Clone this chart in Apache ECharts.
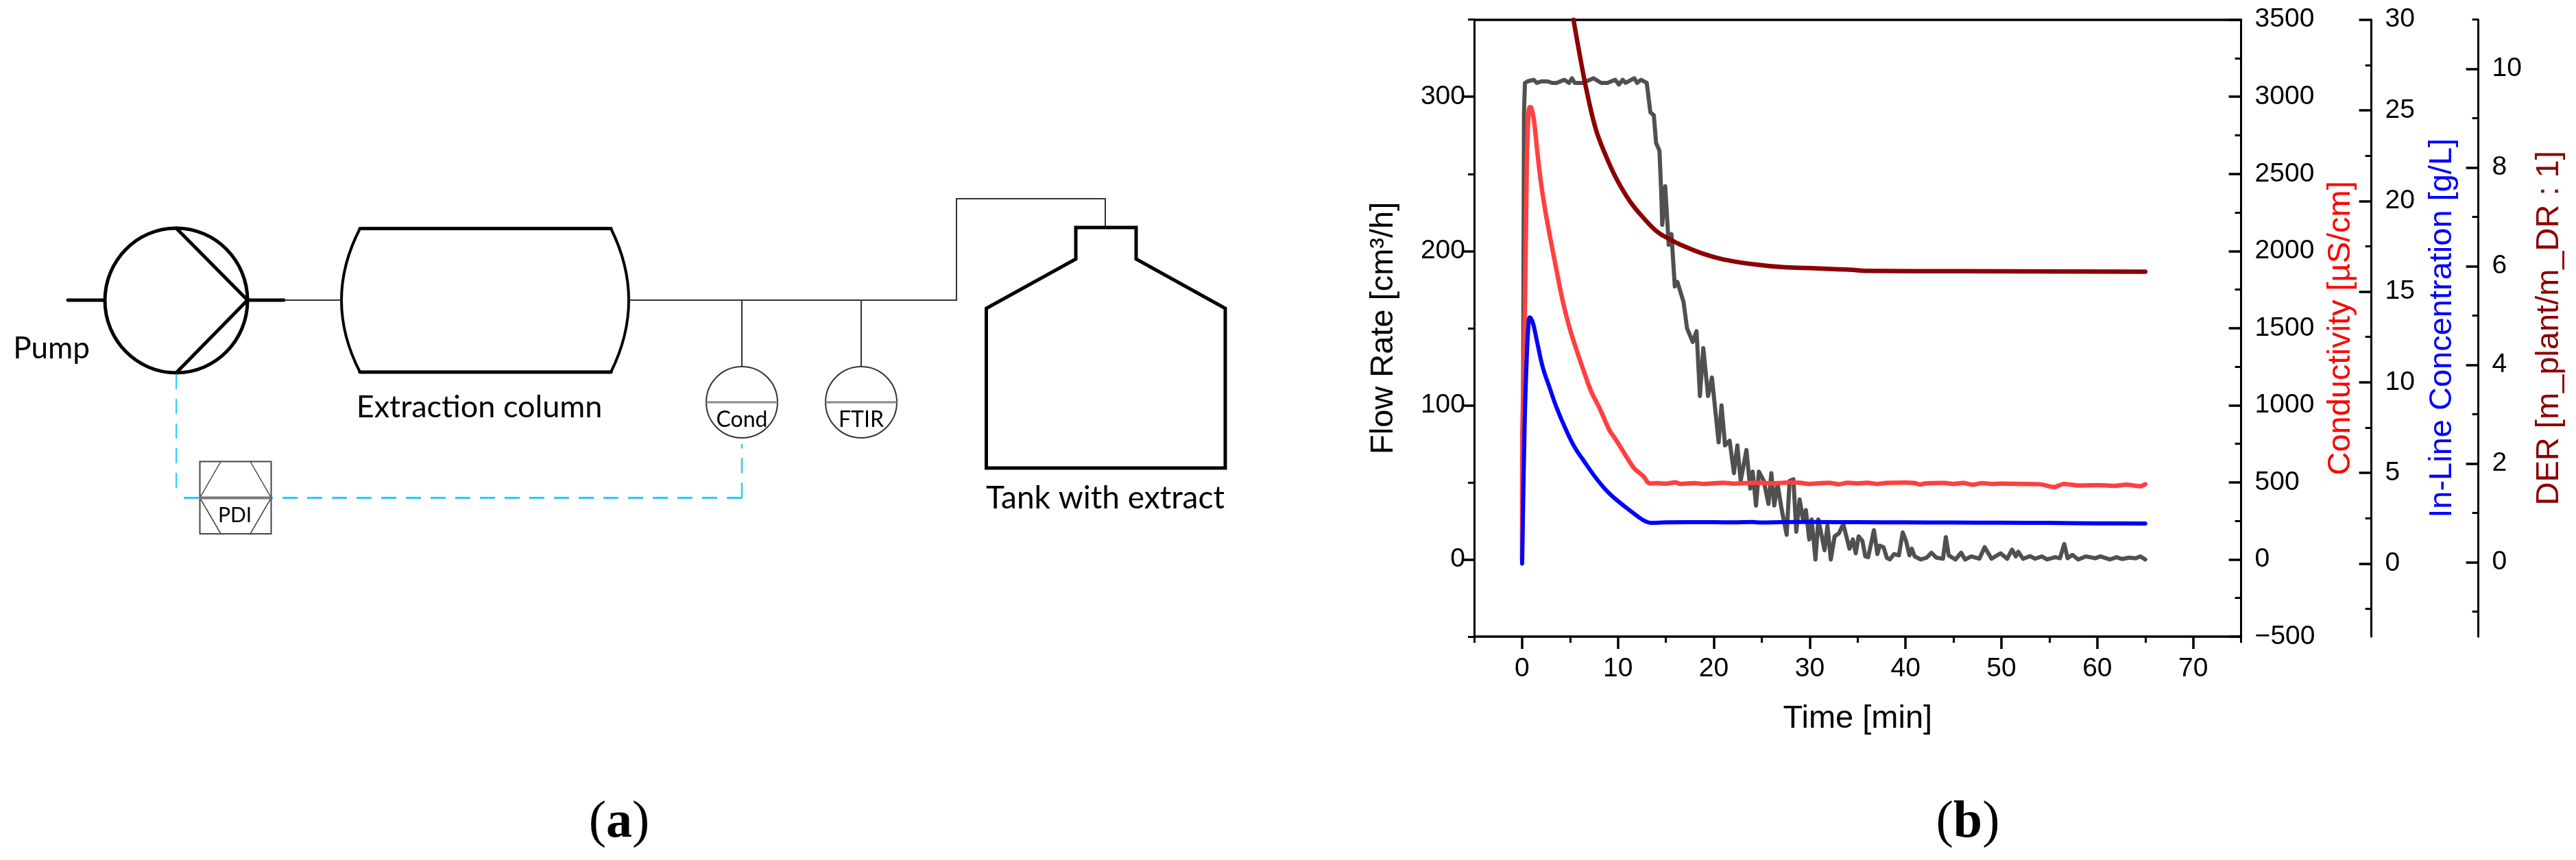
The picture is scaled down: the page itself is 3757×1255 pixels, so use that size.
<!DOCTYPE html>
<html>
<head>
<meta charset="utf-8">
<title>Extraction setup and process run</title>
<style>
    html, body { margin: 0; padding: 0; background: #fff; }
    #main { width: 3757px; height: 1255px; }
</style>
<script src="https://cdn.jsdelivr.net/npm/echarts@6/dist/echarts.min.js"></script>
</head>
<body>
<div id="main"></div>
<script>
// Flow rate [cm3/h]
var flowTime = [0, 0.1, 0.2, 0.3, 0.58, 1.21, 1.53, 2.0, 2.65, 3.13, 3.6, 4.4, 4.9, 5.2, 5.5, 6.3, 7.45, 8.25, 8.9, 9.7, 10.1, 10.5, 10.8, 11.7, 12, 12.4, 13.0,
    13.38, 13.74, 13.98, 14.33, 14.5, 14.62, 14.93, 15.29, 15.58, 15.93, 16.2, 16.84, 17.2, 17.8, 18.2, 18.55, 18.9, 19.4, 19.8, 20.5, 20.8, 21.17, 21.65, 22.1, 22.45, 22.8, 23.4, 23.8, 24.05, 24.4, 24.7, 25.2, 25.7, 26.0, 26.3, 26.65, 27.06, 27.6, 27.9, 28.3, 28.6, 28.95, 29.3, 29.6, 29.95, 30.2, 30.6, 30.9, 31.55, 31.85, 32.2, 32.6, 33.05, 33.5,
    34.15, 34.5, 34.8, 35.1, 35.5, 35.8, 36.1, 36.7, 37.06, 37.3, 37.7, 38.05, 38.35, 38.8, 39.3, 39.7, 40.05, 40.4, 40.65, 40.95, 41.6, 42.2, 42.7, 43.2, 43.9, 44.2, 44.5, 45.2, 45.8, 46.2, 46.85, 47.7, 48.25, 48.96, 49.9, 50.6, 51.1, 51.5, 51.75, 52.25, 53, 53.5, 54.2, 54.75, 55.6, 56.1, 56.55, 56.9, 57.4, 58, 58.8, 59.8, 60.3, 61.3, 62, 62.6, 63.3, 64, 64.5, 65];
var flowValues = [0, 100, 290, 309, 310, 311, 309, 310, 310, 309, 309, 311, 309, 312, 309, 309, 312, 309, 309, 311, 308, 311, 309, 312, 309, 311, 309,
    290, 288, 270, 265, 240, 217, 242, 204, 211, 177, 180, 167, 150, 141, 148, 106, 137, 106, 118, 76, 100, 74, 77, 56, 74, 51, 71, 46, 57, 35, 57, 51, 36, 56, 35, 49, 33, 16, 51, 52, 18, 39, 26, 32, 13, 26, 0, 26, 6, 22, 0, 15, 17, 23,
    7, 13, 4, 15, 12, 2, 1.5, 19, 3.5, 9, 8, 1, 0, 3.5, 2.7, 17.5, 12, 2.7, 7, 2, 0, 1.2, 4.4, 1.2, 0.5, 14.5, 2.7, 0, 4.4, 0, 2, 0.5, 8, 0.5, 4, 0.5, 6.4, 2, 5, 0.5, 2.2, 0.5, 2, 0, 1.5, 0.8, 10, 0.8, 3, 0, 2, 0.8, 2, 0, 1.5, 0.3, 1.2, 0.8, 2, 0];

// Conductivity [uS/cm]
var condTime = [0, 0.03, 0.27, 0.5, 0.68, 0.79, 0.95, 1.22, 1.58, 1.94, 2.41, 2.89, 3.49, 4.2, 4.99, 5.75, 6.23, 7.18, 8.13, 9.09, 9.8, 10.76, 11.7, 12.67, 13.14,
    13.5, 14, 15, 16, 16.5, 18, 19, 20, 21, 22, 24, 25, 26, 28, 29, 30, 31, 32, 33, 34, 35, 36, 37, 38, 40, 41, 41.5, 42, 44, 45, 46, 47, 48, 49, 50, 52, 54, 55.5, 56.5, 58, 60, 62, 63, 64.5, 65];
var condValues = [0, 813, 1493, 2604, 2900, 2933, 2930, 2856, 2649, 2456, 2264, 2101, 1908, 1686, 1493, 1345, 1258, 1093, 975, 841, 775, 679, 590, 538, 498,
    493, 495, 492, 500, 490, 495, 490, 494, 498, 492, 496, 498, 493, 500, 497, 490, 494, 498, 488, 497, 493, 497, 490, 496, 499, 495, 486, 493, 496, 490, 496, 485, 495, 490, 492, 490, 488, 470, 490, 480, 482, 478, 485, 475, 488];

// In-line concentration [g/L]
var concTime = [0, 0.03, 0.27, 0.5, 0.67, 0.79, 0.95, 1.17, 1.58, 2.17, 2.89, 3.6, 4.56, 5.51, 6.47, 7.66, 8.85, 10.04, 11.24, 12.19, 12.9,
    13.5, 15, 20, 22, 24, 25, 27, 30, 35, 40, 45, 50, 55, 60, 65];
var concValues = [0, 0.85, 7.78, 11.56, 13.2, 13.57, 13.5, 13.2, 12.19, 10.8, 9.67, 8.6, 7.4, 6.39, 5.64, 4.75, 4.0, 3.43, 2.93, 2.55, 2.32,
    2.24, 2.27, 2.28, 2.27, 2.29, 2.26, 2.28, 2.29, 2.28, 2.27, 2.26, 2.25, 2.24, 2.22, 2.21];

// DER [m_plant/m_DR : 1]
var derTime = [5.36, 6.0, 6.7, 7.66, 8.61, 9.8, 11.24, 12.67, 14.1, 15.3, 16.5, 18.8, 21, 24.2, 27.4, 30.6, 34.4, 35.8, 45.9, 65];
var derValues = [11.0, 10.3, 9.59, 8.8, 8.3, 7.79, 7.32, 6.98, 6.7, 6.56, 6.44, 6.26, 6.14, 6.04, 5.98, 5.96, 5.93, 5.91, 5.9, 5.89];

// Axis ticks
var timeMajor = [0, 10, 20, 30, 40, 50, 60, 70];
var timeMinor = [-5, 5, 15, 25, 35, 45, 55, 65, 75];
var flowMajor = [0, 100, 200, 300];
var flowMinor = [-50, 50, 150, 250, 350];
var condMajor = [-500, 0, 500, 1000, 1500, 2000, 2500, 3000, 3500];
var condMinor = [-250, 250, 750, 1250, 1750, 2250, 2750, 3250];
var concMajor = [0, 5, 10, 15, 20, 25, 30];
var concMinor = [-2.5, 2.5, 7.5, 12.5, 17.5, 22.5, 27.5];
var derMajor = [0, 2, 4, 6, 8, 10];
var derMinor = [-1, 1, 3, 5, 7, 9, 11];

var FONT = '"Liberation Sans", Arial, sans-serif';
var DIAGRAM_FONT = 'Lato, "Noto Sans", sans-serif';

function zip(xs, ys) {
    return xs.map(function (x, i) { return [x, ys[i]]; });
}

// one pair of value axes per scale, the second one only carries the short ticks
function majorAxis(opt) {
    return {
        type: 'value',
        position: opt.position,
        offset: opt.offset,
        min: opt.min,
        max: opt.max,
        name: opt.name,
        nameLocation: 'middle',
        nameRotate: 90,
        nameGap: opt.nameGap,
        nameTextStyle: { color: opt.nameColor, fontFamily: FONT, fontSize: 47 },
        splitLine: { show: false },
        axisLine: { show: true, onZero: false, lineStyle: { color: '#000', width: 3 } },
        axisTick: { show: true, inside: opt.position === 'right', length: 18, customValues: opt.major, lineStyle: { color: '#000', width: 3.5 } },
        axisLabel: {
            show: true,
            customValues: opt.major,
            margin: opt.margin,
            color: '#000',
            fontFamily: FONT,
            fontSize: 39,
            formatter: function (v) { return String(v).replace('-', '\u2212'); }
        }
    };
}

function minorAxis(opt) {
    return {
        type: 'value',
        position: opt.position,
        offset: opt.offset,
        min: opt.min,
        max: opt.max,
        splitLine: { show: false },
        axisLine: { show: false, onZero: false },
        axisTick: { show: true, inside: opt.position === 'right', length: 9, customValues: opt.minor, lineStyle: { color: '#000', width: 3 } },
        axisLabel: { show: false }
    };
}

var flowAxis = { position: 'left', offset: 0, min: -50, max: 350, major: flowMajor, minor: flowMinor, name: 'Flow Rate [cm\u00b3/h]', nameColor: '#000', nameGap: 108, margin: 13 };
var condAxis = { position: 'right', offset: 0, min: -500, max: 3500, major: condMajor, minor: condMinor, name: 'Conductivity [\u00b5S/cm]', nameColor: '#f00', nameGap: 122, margin: 20 };
var concAxis = { position: 'right', offset: 190, min: -4.03, max: 30, major: concMajor, minor: concMinor, name: 'In-Line Concentration [g/L]', nameColor: '#00f', nameGap: 80, margin: 20 };
var derAxis = { position: 'right', offset: 346, min: -1.506, max: 11, major: derMajor, minor: derMinor, name: 'DER [m_plant/m_DR : 1]', nameColor: '#8b0000', nameGap: 80, margin: 20 };

function thick(shape) {
    return { type: 'line', shape: shape, style: { stroke: '#000', lineWidth: 5, lineCap: 'round' } };
}
function thin(shape) {
    return { type: 'line', shape: shape, style: { stroke: '#333', lineWidth: 2 } };
}
function dashed(shape, width) {
    return { type: 'line', shape: shape, style: { stroke: '#29cdf5', lineWidth: width, lineDash: [22, 14] } };
}
function label(text, x, y, size) {
    return { type: 'text', x: x, y: y, style: { text: text, fill: '#000', font: size + 'px ' + DIAGRAM_FONT, textAlign: 'center', textVerticalAlign: 'middle' } };
}
function sensor(cx, name) {
    return [
        thin({ x1: cx, y1: 438, x2: cx, y2: 535 }),
        { type: 'ellipse', shape: { cx: cx, cy: 587, rx: 52, ry: 52 }, style: { fill: 'none', stroke: '#333', lineWidth: 2 } },
        { type: 'line', shape: { x1: cx - 52, y1: 587, x2: cx + 52, y2: 587 }, style: { stroke: '#888', lineWidth: 3 } },
        label(name, cx, 613, 32)
    ];
}
function caption(letter, x) {
    return {
        type: 'text', x: x, y: 1201,
        style: {
            text: '{n|(}{b|' + letter + '}{n|)}',
            textAlign: 'center', textVerticalAlign: 'middle',
            rich: {
                n: { fontFamily: '"Liberation Serif", serif', fontSize: 76, fill: '#000' },
                b: { fontFamily: '"Liberation Serif", serif', fontSize: 76, fontWeight: 'bold', fill: '#000' }
            }
        }
    };
}

// schematic on the left, it has no scale so it is placed by pixels
var diagram = [
    // pump
    thick({ x1: 99, y1: 438, x2: 152, y2: 438 }),
    thick({ x1: 361, y1: 438, x2: 414, y2: 438 }),
    { type: 'ellipse', shape: { cx: 257, cy: 438.5, rx: 104, ry: 105.5 }, style: { fill: 'none', stroke: '#000', lineWidth: 5 } },
    thick({ x1: 257, y1: 333, x2: 361, y2: 438 }),
    thick({ x1: 361, y1: 438, x2: 257, y2: 544 }),
    // column
    thick({ x1: 525, y1: 333.5, x2: 891, y2: 333.5 }),
    thick({ x1: 525, y1: 543, x2: 891, y2: 543 }),
    { type: 'bezierCurve', shape: { x1: 525, y1: 333.5, x2: 525, y2: 543, cpx1: 471, cpy1: 438 }, style: { fill: 'none', stroke: '#000', lineWidth: 4 } },
    { type: 'bezierCurve', shape: { x1: 891, y1: 333.5, x2: 891, y2: 543, cpx1: 943, cpy1: 438 }, style: { fill: 'none', stroke: '#000', lineWidth: 4 } },
    // piping
    thin({ x1: 414, y1: 438, x2: 498, y2: 438 }),
    { type: 'polyline', shape: { points: [[917, 438], [1395, 438], [1395, 290], [1612, 290], [1612, 332]] }, style: { fill: 'none', stroke: '#333', lineWidth: 2 } },
    // tank
    { type: 'polygon', shape: { points: [[1569, 332], [1657, 332], [1657, 378], [1787, 450], [1787, 683], [1438.5, 683], [1438.5, 450], [1569, 378]] }, style: { fill: 'none', stroke: '#000', lineWidth: 5 } },
    // signal line
    dashed({ x1: 257, y1: 546, x2: 257, y2: 726.5 }, 2),
    dashed({ x1: 268, y1: 726.5, x2: 1082, y2: 726.5 }, 3),
    dashed({ x1: 1082, y1: 726.5, x2: 1082, y2: 648 }, 2.5),
    // PDI
    { type: 'rect', shape: { x: 291.5, y: 673.5, width: 104, height: 105.5 }, style: { fill: '#fff', stroke: '#444', lineWidth: 2 } },
    { type: 'polyline', shape: { points: [[322, 673.5], [291.5, 726.5], [322, 779]] }, style: { fill: 'none', stroke: '#444', lineWidth: 1.5 } },
    { type: 'polyline', shape: { points: [[365, 673.5], [395.5, 726.5], [365, 779]] }, style: { fill: 'none', stroke: '#444', lineWidth: 1.5 } },
    { type: 'line', shape: { x1: 291.5, y1: 726.5, x2: 395.5, y2: 726.5 }, style: { stroke: '#777', lineWidth: 4 } },
    label('PDI', 342.5, 752, 30),
    // captions of the schematic
    label('Pump', 75, 509, 44),
    label('Extraction column', 699, 594, 45),
    label('Tank with extract', 1612, 727, 46),
    caption('a', 903),
    caption('b', 2870)
].concat(sensor(1082, 'Cond'), sensor(1256, 'FTIR'));

var option = {
    animation: false,
    backgroundColor: '#fff',
    grid: { left: 2150, top: 28.7, width: 1118.6, height: 900.3, containLabel: false },
    xAxis: [
        {
            type: 'value', position: 'bottom', min: -5, max: 75,
            name: 'Time [min]', nameLocation: 'middle', nameGap: 97,
            nameTextStyle: { color: '#000', fontFamily: FONT, fontSize: 47 },
            splitLine: { show: false },
            axisLine: { show: true, onZero: false, lineStyle: { color: '#000', width: 3.5 } },
            axisTick: { show: true, length: 18, customValues: timeMajor, lineStyle: { color: '#000', width: 3.5 } },
            axisLabel: { show: true, customValues: timeMajor, margin: 28, color: '#000', fontFamily: FONT, fontSize: 39 }
        },
        {
            type: 'value', position: 'bottom', min: -5, max: 75,
            splitLine: { show: false },
            axisLine: { show: false, onZero: false },
            axisTick: { show: true, length: 9, customValues: timeMinor, lineStyle: { color: '#000', width: 3 } },
            axisLabel: { show: false }
        },
        {
            type: 'value', position: 'top', min: -5, max: 75,
            splitLine: { show: false },
            axisLine: { show: true, onZero: false, lineStyle: { color: '#000', width: 3.5 } },
            axisTick: { show: false },
            axisLabel: { show: false }
        }
    ],
    yAxis: [
        majorAxis(flowAxis), minorAxis(flowAxis),
        majorAxis(condAxis), minorAxis(condAxis),
        majorAxis(concAxis), minorAxis(concAxis),
        majorAxis(derAxis), minorAxis(derAxis)
    ],
    series: [
        { name: 'Flow Rate', type: 'line', xAxisIndex: 0, yAxisIndex: 0, showSymbol: false, clip: true, data: zip(flowTime, flowValues), lineStyle: { color: '#505050', width: 6, join: 'round', cap: 'round' } },
        { name: 'DER', type: 'line', xAxisIndex: 0, yAxisIndex: 6, showSymbol: false, clip: true, smooth: 0.4, data: zip(derTime, derValues), lineStyle: { color: '#8b0000', width: 6.5, join: 'round', cap: 'round' } },
        { name: 'Conductivity', type: 'line', xAxisIndex: 0, yAxisIndex: 2, showSymbol: false, clip: true, smooth: 0.25, data: zip(condTime, condValues), lineStyle: { color: '#ff4040', width: 6.5, join: 'round', cap: 'round' } },
        { name: 'In-Line Concentration', type: 'line', xAxisIndex: 0, yAxisIndex: 4, showSymbol: false, clip: true, smooth: 0.4, data: zip(concTime, concValues), lineStyle: { color: '#0000ff', width: 6, join: 'round', cap: 'round' } }
    ],
    graphic: { elements: diagram }
};

var chart = echarts.init(document.getElementById('main'));
chart.setOption(option);
</script>
</body>
</html>
